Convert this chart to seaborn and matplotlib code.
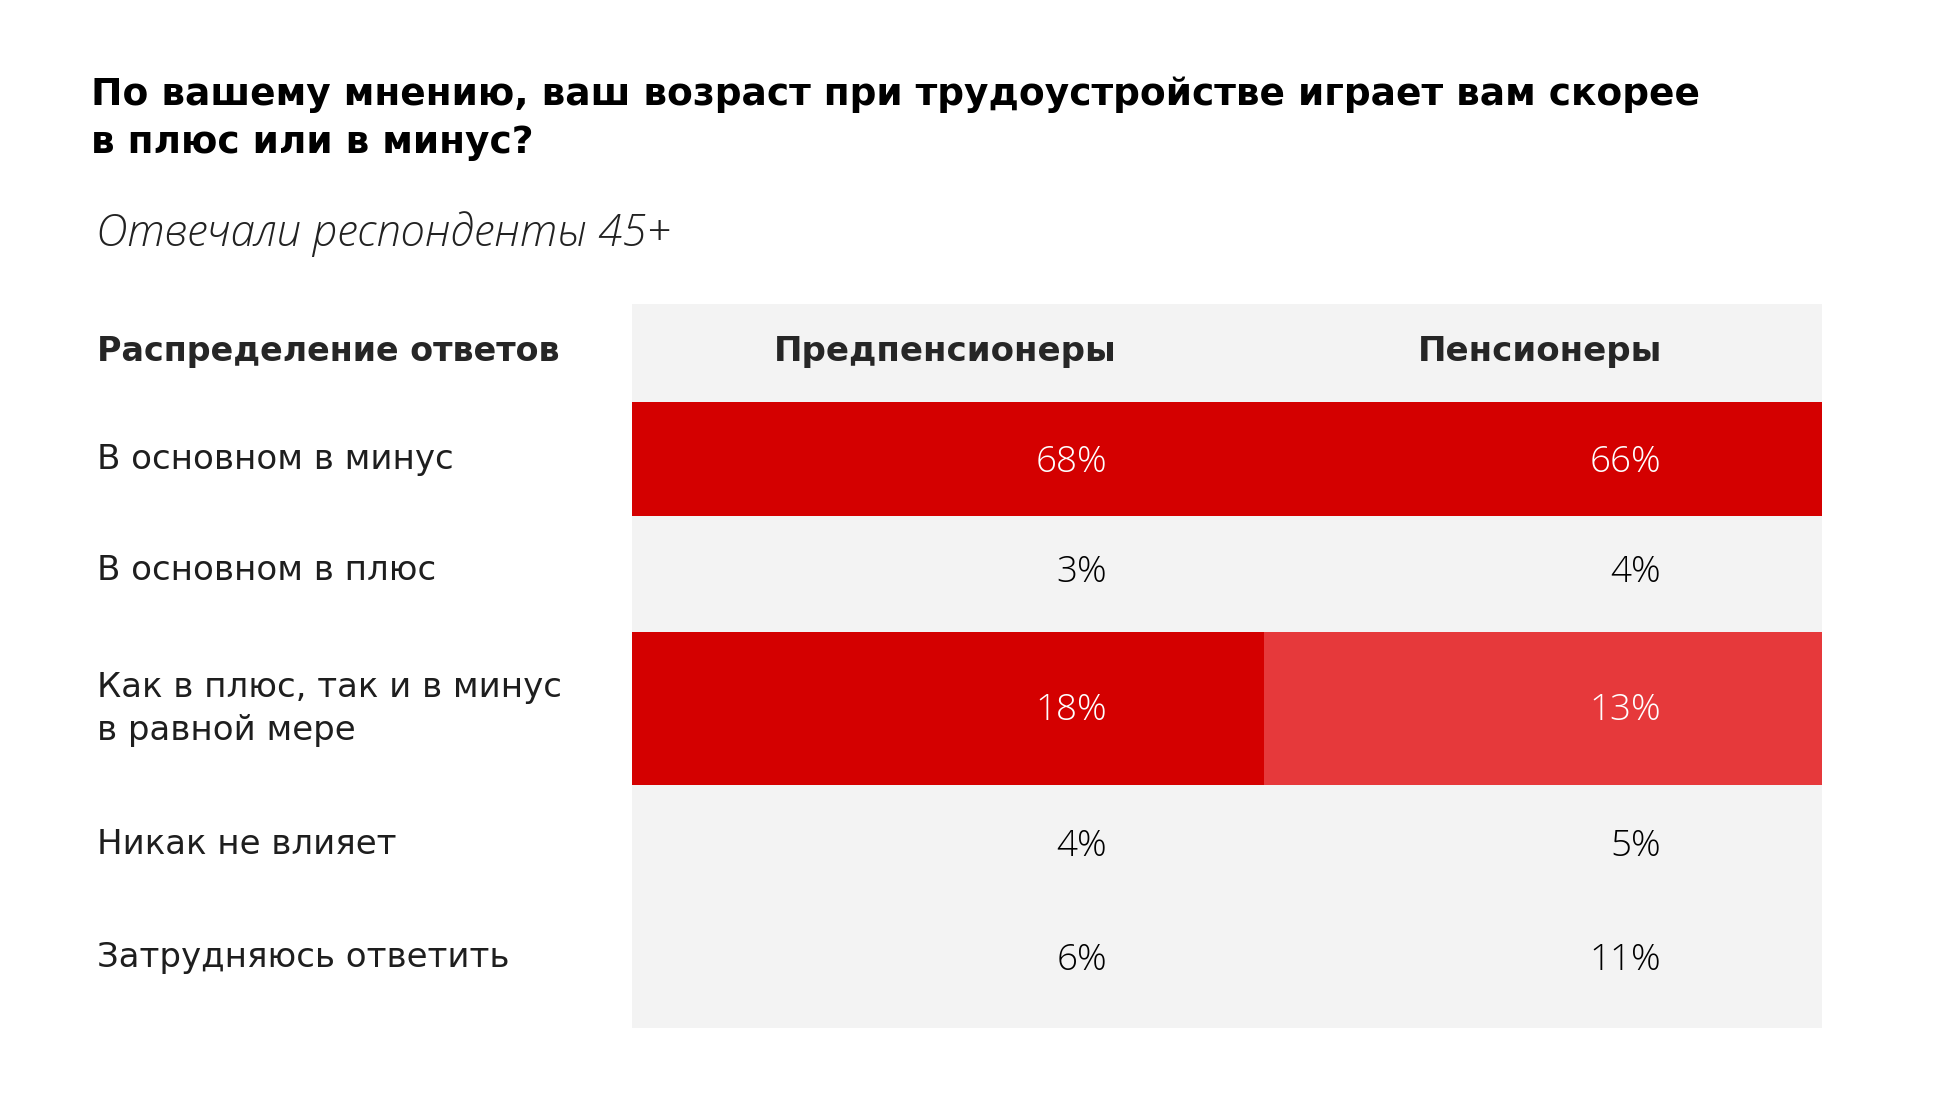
import numpy as np
import matplotlib
matplotlib.use("Agg")
import matplotlib.pyplot as plt
from matplotlib.colors import ListedColormap, BoundaryNorm
from matplotlib.patches import Rectangle
import seaborn as sns

# --- data ---
title = "По вашему мнению, ваш возраст при трудоустройстве играет вам скорее\nв плюс или в минус?"
subtitle = "Отвечали респонденты 45+"
header = "Распределение ответов"
groups = ["Предпенсионеры", "Пенсионеры"]
answers = ["В основном в минус",
           "В основном в плюс",
           "Как в плюс, так и в минус\nв равной мере",
           "Никак не влияет",
           "Затрудняюсь ответить"]
pre_pension = [68, 3, 18, 4, 6]
pension = [66, 4, 13, 5, 11]

sns.set_theme(style="white")
plt.rcParams['font.family'] = ['DejaVu Sans']
light = ['Open Sans', 'DejaVu Sans']

# layout of the table in figure pixels
col_edges = [632, 1264, 1822]
row_edges = [402, 516, 632, 785, 900, 1028]
head_top = 304
head_x = [945, 1540]
text_y = [460, 571, 709, 845, 958]
val_right = [1107, 1661]

gray = "#F3F3F3"
cmap = ListedColormap([gray, "#E6393B", "#D40000"])
norm = BoundaryNorm([0, 12, 15, 101], cmap.N)

values = np.column_stack([pre_pension, pension])

fig = plt.figure(figsize=(19.52, 11.09), dpi=100)
ax = fig.add_axes([0, 0, 1, 1])
ax.set_xlim(0, 1952)
ax.set_ylim(1109, 0)
ax.axis('off')

# grey table background incl. header row
ax.add_patch(Rectangle((col_edges[0], head_top), col_edges[-1] - col_edges[0],
                       row_edges[-1] - head_top, color=gray, lw=0, zorder=0))
ax.pcolormesh(col_edges, row_edges, values, cmap=cmap, norm=norm, zorder=1)

ax.text(91, 119, title, fontsize=27, fontweight='bold', va='center', ha='left',
        linespacing=1.42, color='black')
ax.text(96, 234, subtitle, fontsize=31.5, fontweight='light', style='italic',
        va='center', ha='left', color='#222222', family=light)
ax.text(97, 351, header, fontsize=24, fontweight='bold', va='center', ha='left')

for j, g in enumerate(groups):
    ax.text(head_x[j], 351, g, fontsize=24.5, fontweight='bold', va='center', ha='center')

for i, a in enumerate(answers):
    ax.text(97, text_y[i], a, fontsize=24.5, va='center', ha='left', linespacing=1.36,
            color='#1e1e1e')
    for j in range(2):
        v = values[i, j]
        ax.text(val_right[j], text_y[i] + 2, f"{v}%", fontsize=26.5, fontweight='light',
                va='center', ha='right', family=light,
                color='white' if v >= 12 else 'black')

fig.savefig("out.png", dpi=100)
